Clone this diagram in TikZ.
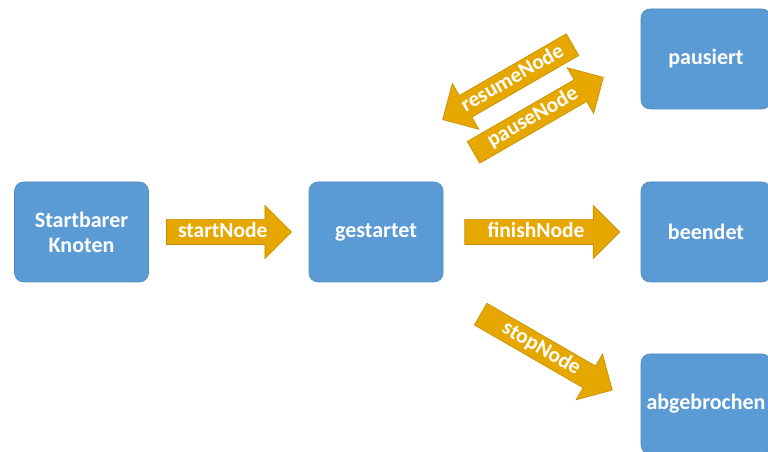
\documentclass[tikz,border=0pt]{standalone}
\usepackage{fontspec}
\setmainfont{Carlito}
\usetikzlibrary{shapes.arrows, calc}
\definecolor{boxblue}{RGB}{91, 155, 213}
\definecolor{gold}{RGB}{229, 167, 0}

\begin{document}
\begin{tikzpicture}[x=1pt, y=1pt,
  zustand/.style={fill=boxblue, draw=boxblue!88!black, line width=0.6pt, rounded corners=9pt,
    minimum width=134pt, minimum height=100pt, align=center, text=white,
    font=\fontsize{22}{25}\selectfont\bfseries},
  uebergang/.style={single arrow, fill=gold, draw=gold!85!black, line width=0.6pt, text=white,
    font=\fontsize{21.5}{24}\selectfont\bfseries, text height=15pt, text depth=4.5pt,
    inner ysep=2.5pt, inner xsep=1pt, single arrow head extend=14pt, single arrow tip angle=90}]
  \useasboundingbox (0, 0) rectangle (768, 452);
  \node[zustand] (startbar) at (81.5, 220) {Startbarer\\Knoten};
  \node[zustand] (gestartet) at (376, 220) {gestartet};
  \node[zustand, minimum width=130pt] (pausiert) at (706, 393) {pausiert};
  \node[zustand, minimum width=130pt] (beendet) at (706, 220) {beendet};
  \node[zustand, minimum width=130pt] (abgebrochen) at (706, 48) {abgebrochen};
  \node[uebergang, minimum height=125pt] (start) at ($(startbar.east)!0.5!(gestartet.west)+(-6,0)$) {startNode};
  \node[uebergang, minimum height=155pt] (finish) at ($(gestartet.east)!0.5!(beendet.west)+(-6,0)$) {finishNode};
  \node[uebergang, minimum height=150pt, shape border rotate=180, rotate=30] (resume) at (513, 373) {resumeNode};
  \node[uebergang, minimum height=150pt, rotate=30] (pause) at (533, 334) {pauseNode};
  \node[uebergang, minimum height=152pt, rotate=-30] (stop) at (541, 103) {stopNode};
\end{tikzpicture}
\end{document}
